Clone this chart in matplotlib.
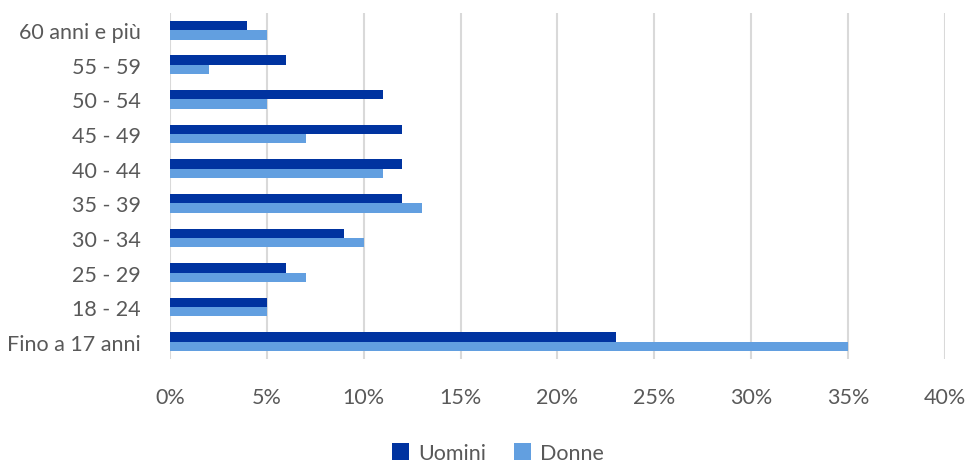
import matplotlib.pyplot as plt
import numpy as np
from matplotlib.ticker import FuncFormatter

plt.rcParams['font.family'] = ['Lato', 'DejaVu Sans']

# Age bands, bottom to top
categories = ['Fino a 17 anni', '18 - 24', '25 - 29', '30 - 34', '35 - 39',
              '40 - 44', '45 - 49', '50 - 54', '55 - 59', '60 anni e più']
uomini = [23, 5, 6, 9, 12, 12, 12, 11, 6, 4]
donne = [35, 5, 7, 10, 13, 11, 7, 5, 2, 5]

dark = '#0033A0'
light = '#629FE0'
text_col = '#595959'

fig = plt.figure(figsize=(9.68, 4.64), dpi=100)
ax = fig.add_axes([0.1756, 0.224, 0.8006, 0.746])

y = np.arange(len(categories))
h = 0.27
ax.barh(y + h / 2, uomini, height=h, color=dark, label='Uomini', zorder=3)
ax.barh(y - h / 2, donne, height=h, color=light, label='Donne', zorder=3)

ax.set_xlim(0, 40)
ax.set_ylim(-0.5, len(categories) - 0.5)
ax.set_xticks(np.arange(0, 41, 5))
ax.xaxis.set_major_formatter(FuncFormatter(lambda v, _: f'{v:.0f}%'))
ax.set_yticks(y)
ax.set_yticklabels(categories)

ax.grid(axis='x', color='#D9D9D9', linewidth=1.5, zorder=0)
for s in ax.spines.values():
    s.set_visible(False)
ax.tick_params(length=0, labelsize=15.5, labelcolor=text_col)
ax.tick_params(axis='x', pad=20)
ax.tick_params(axis='y', pad=21)

ax.legend(loc='center', bbox_to_anchor=(0.423, -0.272), ncol=2,
          frameon=False, fontsize=15.5, labelcolor=text_col,
          handlelength=0.8, handleheight=0.8, handletextpad=0.4,
          columnspacing=1.3)

fig.savefig('out.png', dpi=100)
